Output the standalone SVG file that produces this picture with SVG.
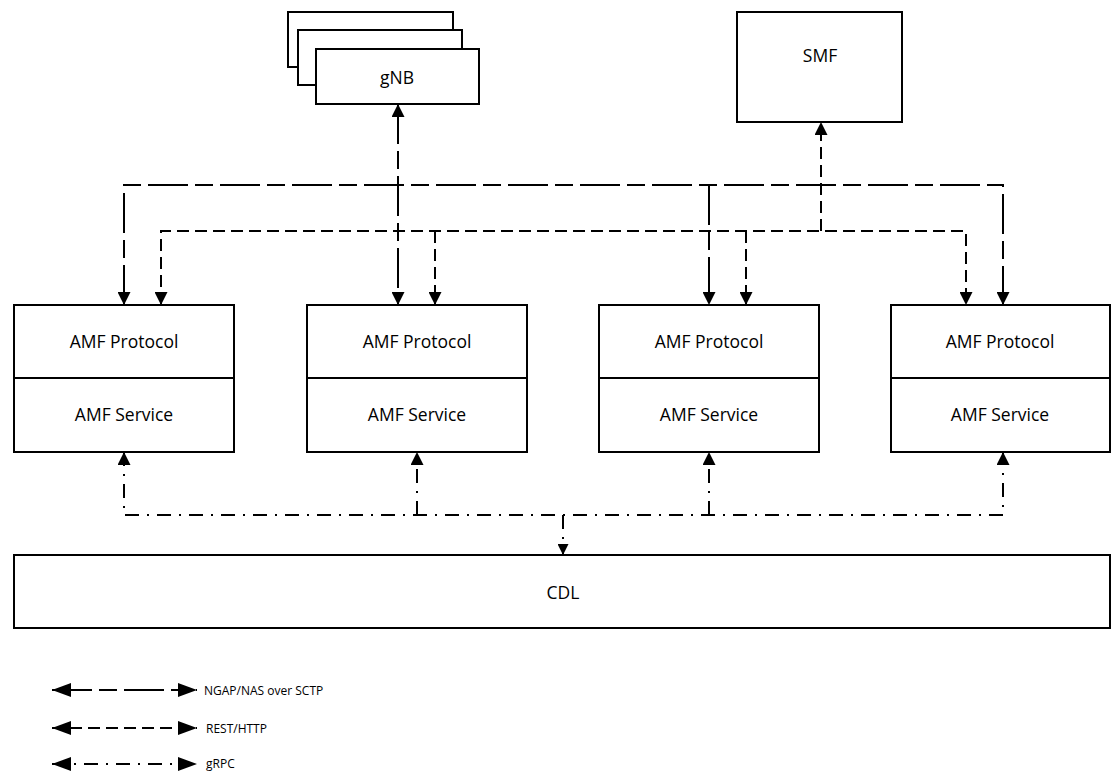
<svg xmlns="http://www.w3.org/2000/svg" width="1113" height="771" viewBox="0 0 1113 771">
<style>
.box{fill:#fff;stroke:#000;stroke-width:2}
.lbl{font-family:"Open Sans","Liberation Sans",sans-serif;font-size:17.5px;fill:#000;text-anchor:middle;dominant-baseline:central}
.leg{font-family:"Open Sans","Liberation Sans",sans-serif;font-size:12px;fill:#000;dominant-baseline:central}
.c{fill:none;stroke:#000;stroke-width:2}
.ngap{stroke-dasharray:40 7 18 7}
.rest{stroke-dasharray:12 6}
.grpc{stroke-dasharray:14 8 2 8}
.a{marker-end:url(#ah)}
.b{marker-start:url(#ah);marker-end:url(#ah)}
.lg{marker-start:url(#al);marker-end:url(#al)}
</style>
<defs>
<marker id="ah" markerUnits="userSpaceOnUse" markerWidth="14" markerHeight="13" refX="13" refY="6.5" orient="auto-start-reverse"><path d="M0,0 L13,6.5 L0,13 z" fill="#000"/></marker>
<marker id="as" markerUnits="userSpaceOnUse" markerWidth="12" markerHeight="11" refX="11" refY="5.5" orient="auto-start-reverse"><path d="M0,0 L11,5.5 L0,11 z" fill="#000"/></marker>
<marker id="al" markerUnits="userSpaceOnUse" markerWidth="20" markerHeight="14" refX="19" refY="7" orient="auto-start-reverse"><path d="M0,0 L19,7 L0,14 z" fill="#000"/></marker>
</defs>
<g id="gnb">
<rect class="box" x="288" y="12" width="165" height="55"/>
<rect class="box" x="298" y="30" width="164" height="55"/>
<rect class="box" x="316" y="49" width="163" height="55"/>
<text class="lbl" x="397" y="77">gNB</text>
</g>
<g id="smf">
<rect class="box" x="737" y="12" width="165" height="110"/>
<text class="lbl" x="820" y="55">SMF</text>
</g>
<g id="amf1">
<rect class="box" x="14" y="305" width="220" height="147"/>
<line class="box" x1="14" y1="378" x2="234" y2="378"/>
<text class="lbl" x="124" y="341">AMF Protocol</text>
<text class="lbl" x="124" y="414">AMF Service</text>
</g>
<g id="amf2">
<rect class="box" x="307" y="305" width="220" height="147"/>
<line class="box" x1="307" y1="378" x2="527" y2="378"/>
<text class="lbl" x="417" y="341">AMF Protocol</text>
<text class="lbl" x="417" y="414">AMF Service</text>
</g>
<g id="amf3">
<rect class="box" x="599" y="305" width="220" height="147"/>
<line class="box" x1="599" y1="378" x2="819" y2="378"/>
<text class="lbl" x="709" y="341">AMF Protocol</text>
<text class="lbl" x="709" y="414">AMF Service</text>
</g>
<g id="amf4">
<rect class="box" x="891" y="305" width="219" height="147"/>
<line class="box" x1="891" y1="378" x2="1110" y2="378"/>
<text class="lbl" x="1000" y="341">AMF Protocol</text>
<text class="lbl" x="1000" y="414">AMF Service</text>
</g>
<g id="cdl">
<rect class="box" x="14" y="555" width="1096" height="73"/>
<text class="lbl" x="563" y="592">CDL</text>
</g>
<g id="connectors">
<path class="c ngap b" d="M124,305 L124,185 L1003,185 L1003,305"/>
<path class="c ngap a" d="M709,185 L709,305"/>
<path class="c ngap b" d="M398,104 L398,305"/>
<path class="c rest b" d="M161,305 L161,231 L966,231 L966,305"/>
<path class="c rest a" d="M435,231 L435,305"/>
<path class="c rest a" d="M746,231 L746,305"/>
<path class="c rest a" d="M821,231 L821,122"/>
<path class="c grpc b" d="M124,452 L124,515 L1003,515 L1003,452"/>
<path class="c grpc a" d="M417,515 L417,452"/>
<path class="c grpc a" d="M709,515 L709,452"/>
<path class="c grpc" style="marker-end:url(#as)" d="M563,515 L563,555"/>
</g>
<g id="legend">
<path class="c ngap lg" d="M52,690 L197,690"/>
<text class="leg" x="204" y="690">NGAP/NAS over SCTP</text>
<path class="c rest lg" d="M52,728 L197,728"/>
<text class="leg" x="206" y="728">REST/HTTP</text>
<path class="c grpc lg" d="M52,764 L197,764"/>
<text class="leg" x="206" y="763">gRPC</text>
</g>
</svg>
